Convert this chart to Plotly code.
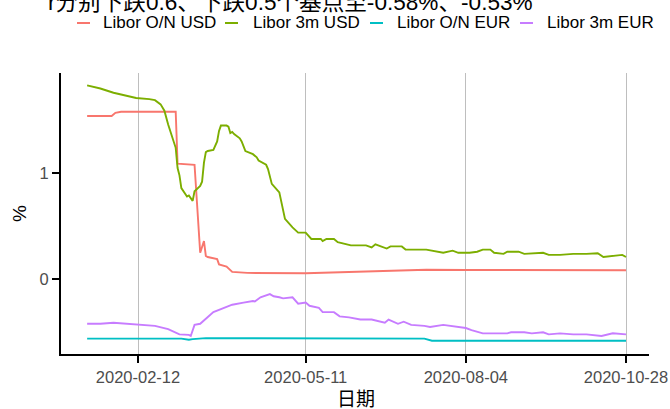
import plotly.graph_objects as go

# ---------------- data ----------------
series_names = ["Libor O/N USD", "Libor 3m USD", "Libor O/N EUR", "Libor 3m EUR"]
series_colors = ["#F8766D", "#7CAE00", "#00BFC4", "#C77CFF"]

usd_on_dates = ["2020-01-16", "2020-01-29", "2020-01-31", "2020-02-03", "2020-03-03", "2020-03-04",
                "2020-03-13", "2020-03-16", "2020-03-18", "2020-03-19", "2020-03-20", "2020-03-23",
                "2020-03-25", "2020-03-26", "2020-03-30", "2020-04-02", "2020-04-10", "2020-05-11",
                "2020-06-15", "2020-07-14", "2020-08-04", "2020-10-28"]
usd_on_vals = [1.54, 1.54, 1.57, 1.58, 1.58, 1.09,
               1.08, 0.25, 0.36, 0.22, 0.21, 0.20,
               0.19, 0.14, 0.12, 0.07, 0.06, 0.057,
               0.078, 0.09, 0.088, 0.085]

usd_3m_dates = ["2020-01-16", "2020-01-23", "2020-01-30", "2020-02-06", "2020-02-11", "2020-02-18",
                "2020-02-21", "2020-02-24", "2020-02-26", "2020-02-28", "2020-03-02", "2020-03-03",
                "2020-03-04", "2020-03-05", "2020-03-06", "2020-03-09", "2020-03-10", "2020-03-11",
                "2020-03-12", "2020-03-13", "2020-03-16", "2020-03-17", "2020-03-18", "2020-03-19",
                "2020-03-20", "2020-03-23", "2020-03-24", "2020-03-25", "2020-03-26", "2020-03-27",
                "2020-03-30", "2020-03-31", "2020-04-01", "2020-04-02", "2020-04-03", "2020-04-06",
                "2020-04-07", "2020-04-09", "2020-04-13", "2020-04-15", "2020-04-16", "2020-04-20",
                "2020-04-21", "2020-04-23", "2020-04-27", "2020-04-30", "2020-05-04", "2020-05-07",
                "2020-05-11", "2020-05-14", "2020-05-19", "2020-05-20", "2020-05-22", "2020-05-26",
                "2020-05-28", "2020-06-04", "2020-06-12", "2020-06-15", "2020-06-17", "2020-06-23",
                "2020-06-25", "2020-07-01", "2020-07-03", "2020-07-14", "2020-07-23", "2020-07-28",
                "2020-07-31", "2020-08-06", "2020-08-10", "2020-08-13", "2020-08-17", "2020-08-19",
                "2020-08-24", "2020-08-26", "2020-09-01", "2020-09-04", "2020-09-14", "2020-09-17",
                "2020-09-23", "2020-09-30", "2020-10-07", "2020-10-13", "2020-10-16", "2020-10-26",
                "2020-10-28"]
usd_3m_vals = [1.83, 1.80, 1.76, 1.73, 1.71, 1.70,
               1.69, 1.65, 1.59, 1.46, 1.30, 1.24,
               1.05, 0.98, 0.86, 0.78, 0.79, 0.76,
               0.74, 0.83, 0.88, 0.92, 1.10, 1.20,
               1.21, 1.22, 1.26, 1.30, 1.40, 1.45,
               1.45, 1.44, 1.38, 1.39, 1.37, 1.33,
               1.30, 1.21, 1.18, 1.15, 1.12, 1.08,
               1.04, 0.90, 0.82, 0.57, 0.49, 0.44,
               0.44, 0.38, 0.38, 0.36, 0.38, 0.38,
               0.35, 0.32, 0.32, 0.30, 0.33, 0.29,
               0.31, 0.31, 0.28, 0.28, 0.25, 0.27,
               0.25, 0.25, 0.26, 0.28, 0.28, 0.25,
               0.24, 0.26, 0.26, 0.24, 0.25, 0.23,
               0.23, 0.24, 0.24, 0.245, 0.21, 0.23,
               0.21]

eur_on_dates = ["2020-01-16", "2020-03-06", "2020-03-10", "2020-03-12", "2020-03-19", "2020-07-13",
                "2020-07-17", "2020-10-28"]
eur_on_vals = [-0.56, -0.56, -0.57, -0.565, -0.555, -0.56,
               -0.58, -0.58]

eur_3m_dates = ["2020-01-16", "2020-01-23", "2020-01-30", "2020-02-06", "2020-02-12", "2020-02-21",
                "2020-02-28", "2020-03-05", "2020-03-10", "2020-03-11", "2020-03-13", "2020-03-16",
                "2020-03-23", "2020-03-27", "2020-04-02", "2020-04-08", "2020-04-13", "2020-04-14",
                "2020-04-17", "2020-04-22", "2020-04-24", "2020-04-27", "2020-04-29", "2020-05-04",
                "2020-05-07", "2020-05-11", "2020-05-13", "2020-05-18", "2020-05-20", "2020-05-26",
                "2020-05-29", "2020-06-03", "2020-06-09", "2020-06-15", "2020-06-22", "2020-06-24",
                "2020-06-29", "2020-07-02", "2020-07-06", "2020-07-13", "2020-07-16", "2020-07-23",
                "2020-07-30", "2020-08-04", "2020-08-07", "2020-08-13", "2020-08-26", "2020-08-28",
                "2020-09-04", "2020-09-08", "2020-09-14", "2020-09-17", "2020-09-23", "2020-09-30",
                "2020-10-07", "2020-10-15", "2020-10-21", "2020-10-28"]
eur_3m_vals = [-0.42, -0.42, -0.41, -0.42, -0.43, -0.44,
               -0.47, -0.52, -0.525, -0.535, -0.43, -0.42,
               -0.31, -0.28, -0.24, -0.22, -0.205, -0.21,
               -0.17, -0.14, -0.16, -0.17, -0.18, -0.17,
               -0.23, -0.22, -0.25, -0.27, -0.31, -0.31,
               -0.35, -0.36, -0.38, -0.38, -0.41, -0.38,
               -0.42, -0.40, -0.43, -0.44, -0.45, -0.43,
               -0.45, -0.46, -0.48, -0.51, -0.51, -0.50,
               -0.50, -0.51, -0.50, -0.52, -0.51, -0.52,
               -0.52, -0.535, -0.51, -0.52]

x_tick_labels = ["2020-02-12", "2020-05-11", "2020-08-04", "2020-10-28"]
y_tick_vals = [0, 1]
title_text = "r分别下跌0.6、下跌0.5个基点至-0.58%、-0.53%"
x_title = "日期"
y_title = "%"

# ---------------- layout constants ----------------
W_PX, H_PX = 670, 409
L, R, T, B = 61, 649, 73, 354
PW, PH = R - L, B - T


def fx(p):
    return (p - L) / PW


def fy(p):
    return (B - p) / PH


FONT = "Liberation Sans, Arial, Noto Sans CJK SC, sans-serif"

fig = go.Figure()
all_dates = [usd_on_dates, usd_3m_dates, eur_on_dates, eur_3m_dates]
all_vals = [usd_on_vals, usd_3m_vals, eur_on_vals, eur_3m_vals]
for name, color, d, v in zip(series_names, series_colors, all_dates, all_vals):
    fig.add_trace(go.Scatter(x=d, y=v, mode="lines", name=name,
                             line=dict(color=color, width=1.9), showlegend=False))

# manual legend (ggplot style, short keys)
key_x0 = [77, 225, 370, 520]
text_x0 = [101, 251, 395, 545]
legend_y = 23
for i, (name, color) in enumerate(zip(series_names, series_colors)):
    fig.add_shape(type="line", xref="paper", yref="paper",
                  x0=fx(key_x0[i]), x1=fx(key_x0[i] + 13), y0=fy(legend_y), y1=fy(legend_y),
                  line=dict(color=color, width=2))
    fig.add_annotation(text=name, xref="paper", yref="paper", x=fx(text_x0[i]), y=fy(legend_y),
                       xanchor="left", yanchor="middle", showarrow=False,
                       font=dict(family=FONT, size=17, color="black"))

# title (top cut off as in the reference)
fig.add_annotation(text=title_text, xref="paper", yref="paper", x=fx(46), y=fy(3),
                   xanchor="left", yanchor="middle", showarrow=False,
                   font=dict(family=FONT, size=22.6, color="black"))
# axis titles
fig.add_annotation(text=x_title, xref="paper", yref="paper", x=fx(356), y=fy(399),
                   xanchor="center", yanchor="middle", showarrow=False,
                   font=dict(family=FONT, size=19, color="black"))
fig.add_annotation(text=y_title, xref="paper", yref="paper", x=fx(19.5), y=fy(213.5),
                   xanchor="center", yanchor="middle", showarrow=False, textangle=-90,
                   font=dict(family=FONT, size=19, color="black"))

fig.update_layout(
    template="none",
    width=W_PX, height=H_PX, autosize=False,
    margin=dict(l=L, r=W_PX - R, t=T, b=H_PX - B, pad=0, autoexpand=False),
    paper_bgcolor="white", plot_bgcolor="white",
    font=dict(family=FONT),
)
fig.update_xaxes(
    type="date", range=["2020-01-02 03:00", "2020-11-09 05:00"], automargin=False,
    tickvals=x_tick_labels, ticktext=x_tick_labels,
    showgrid=True, gridcolor="#BEBEBE", gridwidth=1.2,
    showline=True, linecolor="black", linewidth=2,
    ticks="outside", ticklen=7, tickwidth=2, tickcolor="black",
    tickfont=dict(family=FONT, size=16.5, color="#4D4D4D"),
    zeroline=False,
)
fig.update_yaxes(
    range=[-0.705, 1.946], automargin=False,
    tickvals=y_tick_vals, ticktext=[str(v) for v in y_tick_vals],
    showgrid=False, zeroline=False,
    showline=True, linecolor="black", linewidth=2,
    ticks="outside", ticklen=7, tickwidth=2, tickcolor="black",
    tickfont=dict(family=FONT, size=16.5, color="#4D4D4D"),
)

fig.write_html("out.html", config={"displayModeBar": False},
               post_script="document.body.style.margin='0px';")
